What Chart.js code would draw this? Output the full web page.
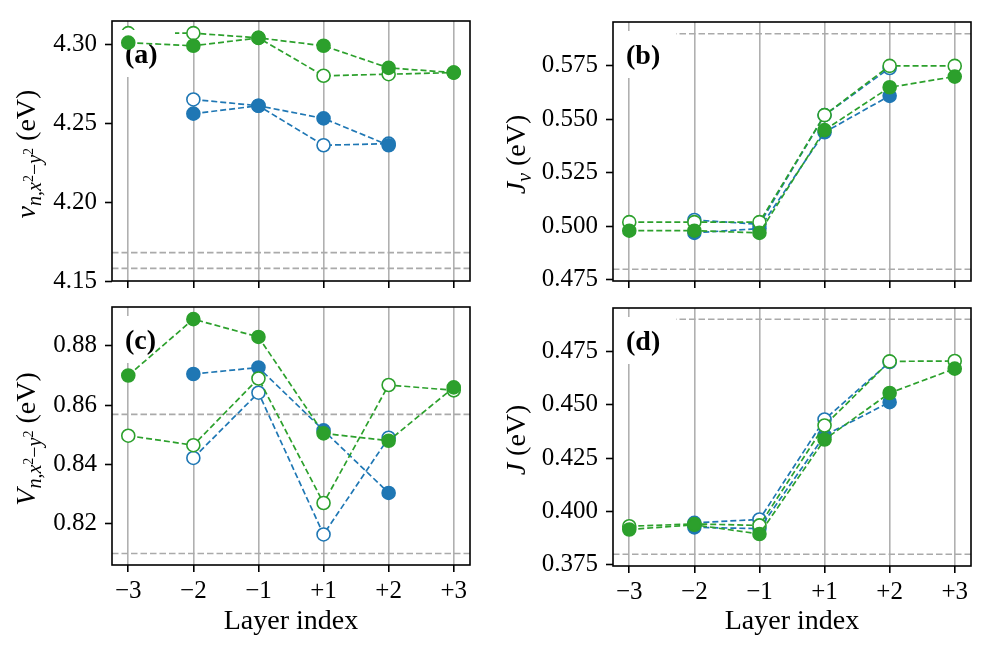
<!DOCTYPE html>
<html>
<head>
<meta charset="utf-8">
<script src="https://cdn.jsdelivr.net/npm/chart.js@4.4.0/dist/chart.umd.min.js"></script>
<style>
  html, body { margin: 0; padding: 0; background: #fff; }
  #fig { position: relative; width: 993px; height: 652px; }
  #fig canvas { position: absolute; }
</style>
</head>
<body>
<div id="fig">
  <canvas id="panelA" width="496" height="294" style="left:0;top:0"></canvas>
  <canvas id="panelB" width="497" height="294" style="left:496px;top:0"></canvas>
  <canvas id="panelC" width="496" height="358" style="left:0;top:294px"></canvas>
  <canvas id="panelD" width="497" height="358" style="left:496px;top:294px"></canvas>
</div>
<script>
const layers = ["\u22123", "\u22122", "\u22121", "+1", "+2", "+3"];

// (a) on-site energy v
const vGreenFilled = [4.301, 4.299, 4.304, 4.299, 4.285, 4.282];
const vGreenOpen = [4.307, 4.307, 4.304, 4.280, 4.281, 4.282];
const vBlueFilled = [null, 4.256, 4.261, 4.253, 4.236, null];
const vBlueOpen = [null, 4.265, 4.261, 4.236, 4.237, null];
const vRefs = [4.168, 4.158];
const vTicks = [4.15, 4.20, 4.25, 4.30];

// (b) J_v
const jvGreenFilled = [0.498, 0.498, 0.497, 0.545, 0.565, 0.570];
const jvGreenOpen = [0.502, 0.502, 0.502, 0.552, 0.575, 0.575];
const jvBlueFilled = [null, 0.497, 0.499, 0.544, 0.561, null];
const jvBlueOpen = [null, 0.503, 0.501, 0.552, 0.574, null];
const jvRefs = [0.590, 0.480];
const jvTicks = [0.475, 0.500, 0.525, 0.550, 0.575];

// (c) V
const bigVGreenFilled = [0.870, 0.889, 0.883, 0.8505, 0.848, 0.866];
const bigVGreenOpen = [0.8497, 0.8465, 0.869, 0.827, 0.8668, 0.865];
const bigVBlueFilled = [null, 0.8705, 0.8727, 0.8515, 0.8304, null];
const bigVBlueOpen = [null, 0.8422, 0.8642, 0.8164, 0.849, null];
const bigVRefs = [0.8569, 0.810];
const bigVTicks = [0.82, 0.84, 0.86, 0.88];

// (d) J
const jGreenFilled = [0.3916, 0.3938, 0.3895, 0.4337, 0.4555, 0.4669];
const jGreenOpen = [0.3931, 0.3942, 0.3935, 0.4403, 0.4703, 0.4705];
const jBlueFilled = [null, 0.3926, 0.392, 0.4356, 0.4512, null];
const jBlueOpen = [null, 0.3947, 0.3963, 0.4431, 0.470, null];
const jRefs = [0.490, 0.380];
const jTicks = [0.375, 0.400, 0.425, 0.450, 0.475];

const blue = "#1f77b4";
const green = "#2ca02c";
const serif = "'Liberation Serif', 'Times New Roman', serif";

function series(values, color, filled) {
  return {
    data: values.map((v, i) => ({ x: i, y: v })),
    borderColor: color,
    borderWidth: 1.7,
    borderDash: [6, 3],
    pointRadius: 6.5,
    pointBorderWidth: 1.6,
    pointBackgroundColor: filled ? color : "#fff",
    pointBorderColor: color,
    fill: false,
    tension: 0,
  };
}

// draws rotated y label with sub/superscripts; level 0 = normal, 1 = subscript, 2 = sup on subscript
function drawRichLabel(ctx, parts, bx, cy) {
  ctx.save();
  ctx.translate(bx, cy);
  ctx.rotate(-Math.PI / 2);
  ctx.fillStyle = "#000";
  ctx.textBaseline = "alphabetic";
  const sizes = [28, 20, 14];
  const shifts = [0, 6, -2];
  const items = parts.map(([text, style, level]) => {
    const font = (style === "i" ? "italic " : "") + sizes[level] + "px " + serif;
    ctx.font = font;
    return { text, font, w: ctx.measureText(text).width, dy: shifts[level] };
  });
  let x = -items.reduce((s, p) => s + p.w, 0) / 2;
  items.forEach((p) => {
    ctx.font = p.font;
    ctx.fillText(p.text, x, p.dy);
    x += p.w;
  });
  ctx.restore();
}

const decor = {
  id: "panelDecor",
  beforeDatasetsDraw(chart, args, opts) {
    const { ctx, chartArea: a } = chart;
    const y = chart.scales.y;
    ctx.save();
    ctx.strokeStyle = "#aaaaaa";
    ctx.lineWidth = 1.6;
    ctx.setLineDash([6.5, 3]);
    opts.refs.forEach((v) => {
      const py = y.getPixelForValue(v);
      ctx.beginPath();
      ctx.moveTo(a.left, py);
      ctx.lineTo(a.right, py);
      ctx.stroke();
    });
    ctx.restore();
  },
  afterDatasetDraw(chart, args, opts) {
    if (args.index !== 1) return;
    const { ctx, chartArea: a } = chart;
    ctx.save();
    ctx.fillStyle = "#fff";
    ctx.fillRect(a.left, a.top + 9, 63, 47);
    ctx.fillStyle = "#000";
    ctx.font = "bold 28px " + serif;
    ctx.textBaseline = "alphabetic";
    ctx.fillText(opts.letter, a.left + 13, a.top + 42);
    ctx.restore();
  },
  afterDraw(chart, args, opts) {
    const { ctx, chartArea: a } = chart;
    ctx.save();
    ctx.strokeStyle = "#000";
    ctx.lineWidth = 1.6;
    ctx.strokeRect(a.left, a.top, a.right - a.left, a.bottom - a.top);
    ctx.restore();
    drawRichLabel(ctx, opts.ylabel, a.left - opts.labelGap, (a.top + a.bottom) / 2 + 3);
  },
};

function makePanel(id, cfg) {
  new Chart(document.getElementById(id), {
    type: "line",
    data: {
      datasets: [
        series(cfg.greenFilled, green, true),
        series(cfg.greenOpen, green, false),
        series(cfg.blueFilled, blue, true),
        series(cfg.blueOpen, blue, false),
      ],
    },
    options: {
      responsive: false,
      animation: false,
      events: [],
      layout: { padding: { top: cfg.top, right: cfg.right, bottom: 0, left: 0 } },
      plugins: {
        legend: { display: false },
        tooltip: { enabled: false },
        panelDecor: {
          refs: cfg.refs,
          letter: cfg.letter,
          ylabel: cfg.ylabel,
          labelGap: cfg.labelGap,
        },
      },
      scales: {
        x: {
          type: "linear",
          min: -0.25,
          max: 5.25,
          afterBuildTicks: (s) => {
            s.ticks = layers.map((_, i) => ({ value: i }));
          },
          afterFit: (s) => {
            s.height = cfg.xHeight;
            s.paddingLeft = 0;
            s.paddingRight = 0;
          },
          ticks: {
            display: cfg.showX,
            autoSkip: false,
            maxRotation: 0,
            padding: 4,
            color: "#000",
            font: { family: serif, size: 25 },
            callback: (v) => layers[v],
          },
          grid: {
            color: "#b0b0b0",
            lineWidth: 1.6,
            tickColor: "#000",
            tickWidth: 1.6,
            tickLength: 7,
          },
          border: { display: false },
          title: {
            display: cfg.showX,
            text: "Layer index",
            color: "#000",
            font: { family: serif, size: 28 },
            padding: { top: 0, bottom: 14 },
          },
        },
        y: {
          min: cfg.yMin,
          max: cfg.yMax,
          afterBuildTicks: (s) => {
            s.ticks = cfg.yTicks.map((v) => ({ value: v }));
          },
          afterFit: (s) => {
            s.width = cfg.yWidth;
            s.paddingTop = 0;
            s.paddingBottom = 0;
          },
          ticks: {
            padding: 8,
            color: "#000",
            font: { family: serif, size: 25 },
            callback: (v) => v.toFixed(cfg.digits),
          },
          grid: {
            drawOnChartArea: false,
            tickColor: "#000",
            tickWidth: 1.6,
            tickLength: 7,
          },
          border: { display: false },
        },
      },
    },
    plugins: [decor],
  });
}

const vLabel = [["v", "i", 0], ["n,x", "i", 1], ["2", "", 2], ["\u2212", "", 1], ["y", "i", 1], ["2", "", 2], [" (eV)", "", 0]];
const bigVLabel = [["V", "i", 0], ["n,x", "i", 1], ["2", "", 2], ["\u2212", "", 1], ["y", "i", 1], ["2", "", 2], [" (eV)", "", 0]];
const jvLabel = [["J", "i", 0], ["v", "i", 1], [" (eV)", "", 0]];
const jLabel = [["J", "i", 0], [" (eV)", "", 0]];

makePanel("panelA", {
  greenFilled: vGreenFilled, greenOpen: vGreenOpen, blueFilled: vBlueFilled, blueOpen: vBlueOpen,
  refs: vRefs, yTicks: vTicks, yMin: 4.150, yMax: 4.3147, digits: 2,
  letter: "(a)", ylabel: vLabel, labelGap: 77,
  top: 21, right: 26, yWidth: 112, xHeight: 13, showX: false,
});
makePanel("panelB", {
  greenFilled: jvGreenFilled, greenOpen: jvGreenOpen, blueFilled: jvBlueFilled, blueOpen: jvBlueOpen,
  refs: jvRefs, yTicks: jvTicks, yMin: 0.4745, yMax: 0.5955, digits: 3,
  letter: "(b)", ylabel: jvLabel, labelGap: 88,
  top: 22, right: 22, yWidth: 117, xHeight: 13, showX: false,
});
makePanel("panelC", {
  greenFilled: bigVGreenFilled, greenOpen: bigVGreenOpen, blueFilled: bigVBlueFilled, blueOpen: bigVBlueOpen,
  refs: bigVRefs, yTicks: bigVTicks, yMin: 0.8061, yMax: 0.8931, digits: 2,
  letter: "(c)", ylabel: bigVLabel, labelGap: 77,
  top: 13, right: 26, yWidth: 112, xHeight: 87, showX: true,
});
makePanel("panelD", {
  greenFilled: jGreenFilled, greenOpen: jGreenOpen, blueFilled: jBlueFilled, blueOpen: jBlueOpen,
  refs: jRefs, yTicks: jTicks, yMin: 0.3745, yMax: 0.4953, digits: 3,
  letter: "(d)", ylabel: jLabel, labelGap: 88,
  top: 14, right: 22, yWidth: 117, xHeight: 86, showX: true,
});
</script>
</body>
</html>
